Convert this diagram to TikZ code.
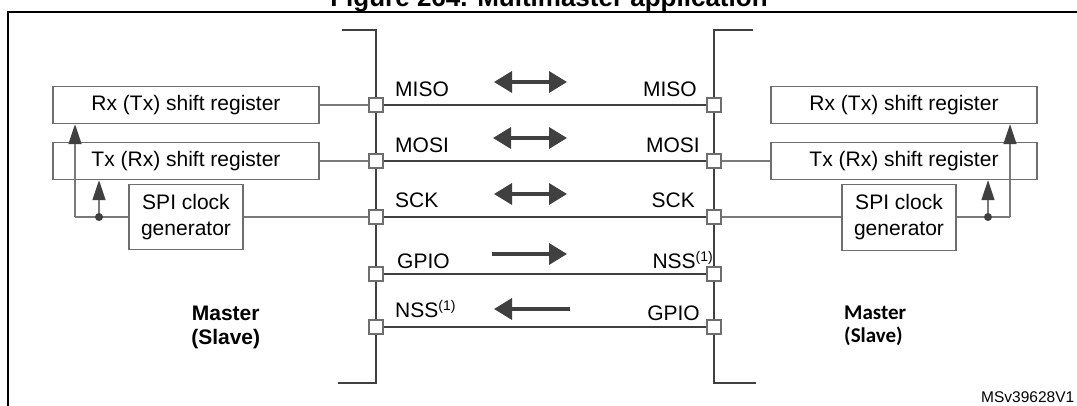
\documentclass[tikz,border=0pt]{standalone}
\usepackage{fontspec}
\setmainfont{Liberation Sans}
\newfontfamily\calfont{Carlito}
\usetikzlibrary{arrows.meta}
\definecolor{dk}{HTML}{404040}
\definecolor{md}{HTML}{7A7A7A}
\definecolor{bx}{HTML}{6E6E6E}
\newcommand\supone{\raisebox{7pt}{\fontsize{14}{14}\selectfont(1)}}
\begin{document}
\begin{tikzpicture}[x=1pt,y=-1pt,
  lbl/.style={inner sep=0pt, font=\fontsize{21}{25}\selectfont},
  mlbl/.style={inner sep=0pt, font=\bfseries\fontsize{21}{25}\selectfont},
  clbl/.style={inner sep=0pt, font=\calfont\bfseries\fontsize{21}{25}\selectfont},
  regbox/.style={draw=bx, line width=1.4pt, inner sep=0pt, minimum width=266pt, minimum height=37pt, font=\fontsize{21}{25}\selectfont},
  clkbox/.style={draw=bx, line width=1.4pt, inner sep=0pt, minimum width=114pt, minimum height=65pt, align=center, font=\fontsize{21}{26}\selectfont},
  pad/.style={draw=bx, fill=white, line width=1.2pt, minimum size=14pt, inner sep=0pt},
  bus/.style={draw=dk, line width=2pt},
  sig/.style={draw=dk, line width=2pt},
  wire/.style={draw=md, line width=1.4pt},
  clk/.style={wire, -{Triangle[length=20pt,width=13pt,color=dk]}},
  big/.style={draw=dk, line width=3.5pt, -{Triangle[length=18pt,width=21pt]}},
  bigboth/.style={draw=dk, line width=3.5pt, {Triangle[length=18pt,width=21pt]}-{Triangle[length=18pt,width=21pt]}},
  dot/.style={circle, fill=dk, inner sep=0pt, minimum size=8pt},
]
\useasboundingbox (0,0) rectangle (1077,405);
\clip (0,0) rectangle (1077,405);
\fill[white] (0,0) rectangle (1077,405);

% title (cropped) and frame
\node[inner sep=0pt, anchor=base, font=\bfseries\fontsize{26}{30}\selectfont] (title) at (549,6) {Figure 264. Multimaster application};
\draw[line width=2.4pt] (8,430) -- (8,12) -- (1100,12);

% buses
\draw[bus] (342,30) -- (376,30) -- (376,383) -- (338,383);
\draw[bus] (753,30) -- (714,30) -- (714,383) -- (756,383);

% pads
\foreach \n/\y in {1/105,2/161,3/217,4/274,5/327}{
  \node[pad] (pl\n) at (376,\y) {};
  \node[pad] (pr\n) at (714,\y) {};
}
\foreach \n in {1,...,5}{ \draw[sig] (pl\n.east) -- (pr\n.west); }

% left device
\node[regbox] (lrx) at (186,105) {Rx (Tx) shift register};
\node[regbox] (ltx) at (186,161) {Tx (Rx) shift register};
\node[clkbox] (lclk) at (186,217) {SPI clock\\generator};
\draw[wire] (lrx.east) -- (pl1.west);
\draw[wire] (ltx.east) -- (pl2.west);
\draw[wire] (lclk.east) -- (pl3.west);
\coordinate (lj) at (75,217);
\coordinate (ldc) at (99,217);
\draw[wire] (lclk.west) -- (lj);
\draw[clk] (lj) -- (lj |- lrx.south);
\draw[clk] (ldc) -- (ldc |- ltx.south);
\node[dot] (ld) at (ldc) {};

% right device
\node[regbox] (rrx) at (904,105) {Rx (Tx) shift register};
\node[regbox] (rtx) at (904,161) {Tx (Rx) shift register};
\node[clkbox, minimum height=66pt] (rclk) at (899,217.5) {SPI clock\\generator};
\draw[wire] (pr2.east) -- (rtx.west);
\draw[wire] (pr3.east) -- (rclk.west |- pr3);
\coordinate (rj) at (1010,217);
\coordinate (rdc) at (988,217);
\draw[wire] (rclk.east |- rj) -- (rj);
\draw[clk] (rj) -- (rj |- rrx.south);
\draw[clk] (rdc) -- (rdc |- rtx.south);
\node[dot] (rd) at (rdc) {};

% direction arrows
\coordinate (a1l) at (494,82);  \coordinate (a1r) at (567,82);
\coordinate (a2l) at (493,138); \coordinate (a2r) at (567,138);
\coordinate (a3l) at (494,194); \coordinate (a3r) at (567,194);
\coordinate (a4l) at (492,254); \coordinate (a4r) at (567,254);
\coordinate (a5l) at (494,309); \coordinate (a5r) at (570,309);
\draw[bigboth] (a1l) -- (a1r);
\draw[bigboth] (a2l) -- (a2r);
\draw[bigboth] (a3l) -- (a3r);
\draw[big] (a4l) -- (a4r);
\draw[big] (a5r) -- (a5l);

% signal labels
\node[lbl, anchor=base west] (t1) at (395,96.7) {MISO};
\node[lbl, anchor=base west] (t2) at (395,152.7) {MOSI};
\node[lbl, anchor=base west] (t3) at (395,207.5) {SCK};
\node[lbl, anchor=base west] (t4) at (397,268.3) {GPIO};
\node[lbl, anchor=base west] (t5) at (395,317.3) {NSS\supone};
\node[lbl, anchor=base east] (u1) at (697,96.7) {MISO};
\node[lbl, anchor=base east] (u2) at (700,152.7) {MOSI};
\node[lbl, anchor=base east] (u3) at (695,207.5) {SCK};
\node[lbl, anchor=base east] (u4) at (713,268.3) {NSS\supone};
\node[lbl, anchor=base east] (u5) at (700,320) {GPIO};

% device names
\node[mlbl, anchor=base] (m1) at (225.7,320) {Master};
\node[mlbl, anchor=base] (m2) at (225.7,344) {(Slave)};
\node[clbl, anchor=base west] (m3) at (844,319) {Master};
\node[clbl, anchor=base west] (m4) at (844,342.7) {(Slave)};

% figure id
\node[inner sep=0pt, anchor=base west, font=\fontsize{15.5}{18}\selectfont] (id) at (981,402) {MSv39628V1};
\end{tikzpicture}
\end{document}
